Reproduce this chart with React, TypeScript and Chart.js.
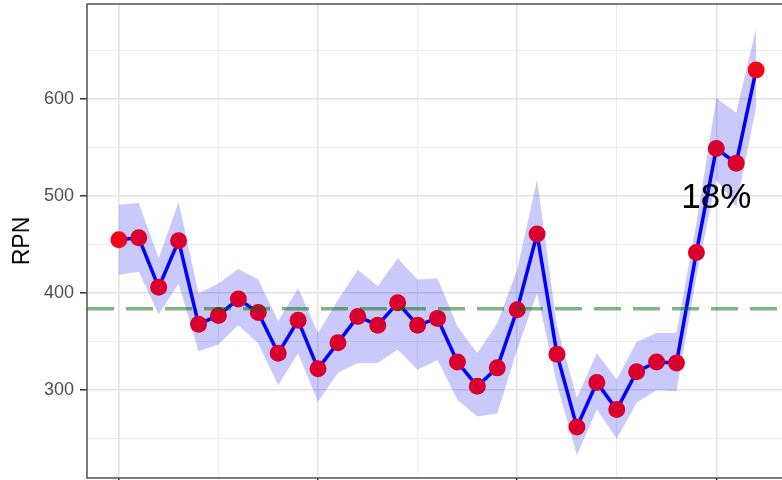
import { useEffect, useRef } from "react";
import { Chart, registerables } from "chart.js";

Chart.register(...registerables);

// ---- data ----
const periods = [1, 2, 3, 4, 5, 6, 7, 8, 9, 10, 11, 12, 13, 14, 15, 16, 17, 18, 19, 20, 21, 22, 23, 24, 25, 26, 27, 28, 29, 30, 31, 32, 33];
const rpn = [455, 457, 406, 454, 368, 377, 394, 380, 338, 372, 322, 349, 376, 367, 390, 367, 374, 329, 304, 323, 383, 461, 337, 262, 308, 280, 319, 329, 328, 442, 549, 534, 630];
const rpnUpper = [491, 493, 436, 494, 400, 410, 425, 414, 371, 405, 359, 393, 424, 407, 436, 414, 415, 366, 338, 369, 424, 517, 366, 292, 338, 311, 350, 359, 359, 472, 601, 586, 673];
const rpnLower = [419, 422, 378, 410, 340, 347, 367, 348, 305, 338, 288, 318, 328, 328, 342, 321, 331, 290, 273, 276, 342, 400, 306, 233, 280, 250, 287, 300, 299, 417, 517, 489, 592];
const refLevel = 384;
const annotationText = "18%";
const annotationX = 31;
const annotationY = 498;

const xMajorTicks = [1, 11, 21, 31];
const xMinorTicks = [6, 16, 26];
const yMajorTicks = [300, 400, 500, 600];
const yMinorTicks = [250, 350, 450, 550, 650];
const X_MIN = -0.6;
const X_MAX = 34.6;
const Y_MIN = 209.5;
const Y_MAX = 698;

const FAMILY = '"Liberation Sans", Arial, Helvetica, sans-serif';

const panelPlugin = {
  id: "panelDecor",
  afterDraw(chart: any) {
    const { ctx, chartArea: a, scales } = chart;
    ctx.save();
    ctx.font = `35px ${FAMILY}`;
    ctx.fillStyle = "#000000";
    ctx.textAlign = "center";
    ctx.textBaseline = "middle";
    ctx.fillText(
      annotationText,
      scales.x.getPixelForValue(annotationX),
      scales.y.getPixelForValue(annotationY)
    );
    ctx.strokeStyle = "#5a5a5a";
    ctx.lineWidth = 1.6;
    ctx.strokeRect(a.left, a.top, a.right - a.left, a.bottom - a.top);
    ctx.restore();
  },
};

export default function App() {
  const ref = useRef<HTMLCanvasElement | null>(null);

  useEffect(() => {
    if (!ref.current) return;
    const pointColors = rpn.map((_, i) =>
      i === 0 || i === rpn.length - 1 ? "#f2071a" : "#d9002e"
    );
    const chart = new Chart(ref.current, {
      type: "line",
      data: {
        datasets: [
          {
            label: "reference",
            data: [
              { x: X_MIN, y: refLevel },
              { x: X_MAX, y: refLevel },
            ],
            borderColor: "rgba(0,110,0,0.5)",
            borderWidth: 3.5,
            borderDash: [27, 12],
            pointRadius: 0,
            fill: false,
            order: 0,
          },
          {
            label: "RPN",
            data: periods.map((p, i) => ({ x: p, y: rpn[i] })),
            borderColor: "#0000ff",
            borderWidth: 3.5,
            pointRadius: 8.5,
            pointBackgroundColor: pointColors,
            pointBorderWidth: 0,
            pointBorderColor: "rgba(0,0,0,0)",
            fill: false,
            tension: 0,
            order: 1,
          },
          {
            label: "upper",
            data: periods.map((p, i) => ({ x: p, y: rpnUpper[i] })),
            borderColor: "rgba(0,0,0,0)",
            borderWidth: 0,
            pointRadius: 0,
            backgroundColor: "rgba(0,0,240,0.21)",
            fill: "+1",
            order: 2,
          },
          {
            label: "lower",
            data: periods.map((p, i) => ({ x: p, y: rpnLower[i] })),
            borderColor: "rgba(0,0,0,0)",
            borderWidth: 0,
            pointRadius: 0,
            fill: false,
            order: 3,
          },
        ],
      },
      options: {
        responsive: false,
        animation: false,
        events: [],
        layout: { autoPadding: false, padding: { top: 4, right: 2, bottom: 0, left: 0 } },
        plugins: {
          legend: { display: false },
          tooltip: { enabled: false },
        },
        scales: {
          x: {
            type: "linear",
            min: X_MIN,
            max: X_MAX,
            afterBuildTicks: (s: any) => {
              s.ticks = [...xMajorTicks, ...xMinorTicks]
                .sort((a, b) => a - b)
                .map((v) => ({ value: v }));
            },
            ticks: { display: false },
            grid: {
              color: (c: any) =>
                xMajorTicks.includes(c.tick?.value) ? "#e2e2e2" : "#ededed",
              lineWidth: (c: any) =>
                xMajorTicks.includes(c.tick?.value) ? 1.6 : 1.1,
              tickColor: (c: any) =>
                xMajorTicks.includes(c.tick?.value) ? "#333333" : "rgba(0,0,0,0)",
              tickLength: 4,
              tickWidth: 1.5,
            },
            border: { display: false },
            afterFit: (s: any) => {
              s.height = 2;
              s.paddingLeft = 0;
              s.paddingRight = 0;
            },
          },
          y: {
            type: "linear",
            min: Y_MIN,
            max: Y_MAX,
            afterBuildTicks: (s: any) => {
              s.ticks = [...yMinorTicks, ...yMajorTicks]
                .sort((a, b) => a - b)
                .map((v) => ({ value: v }));
            },
            ticks: {
              callback: (v: any) => (yMajorTicks.includes(Number(v)) ? String(v) : ""),
              color: "#4d4d4d",
              font: { size: 18, family: FAMILY, lineHeight: 0.2 },
              padding: 6,
            },
            grid: {
              color: (c: any) =>
                yMajorTicks.includes(c.tick?.value) ? "#e2e2e2" : "#ededed",
              lineWidth: (c: any) =>
                yMajorTicks.includes(c.tick?.value) ? 1.6 : 1.1,
              tickColor: (c: any) =>
                yMajorTicks.includes(c.tick?.value) ? "#333333" : "rgba(0,0,0,0)",
              tickLength: 7,
              tickWidth: 1.5,
            },
            border: { display: false },
            title: {
              display: true,
              text: "RPN",
              color: "#000000",
              font: { size: 23, family: FAMILY },
              padding: { top: 9, bottom: 0 },
            },
            afterFit: (s: any) => {
              s.width = 87;
              s.paddingTop = 0;
              s.paddingBottom = 0;
            },
          },
        },
      },
      plugins: [panelPlugin],
    });
    return () => chart.destroy();
  }, []);

  return (
    <div
      style={{
        position: "absolute",
        left: 0,
        top: 0,
        width: 782,
        height: 480,
        overflow: "hidden",
        background: "#ffffff",
      }}
    >
      <canvas ref={ref} width={790} height={480} style={{ display: "block" }} />
    </div>
  );
}
